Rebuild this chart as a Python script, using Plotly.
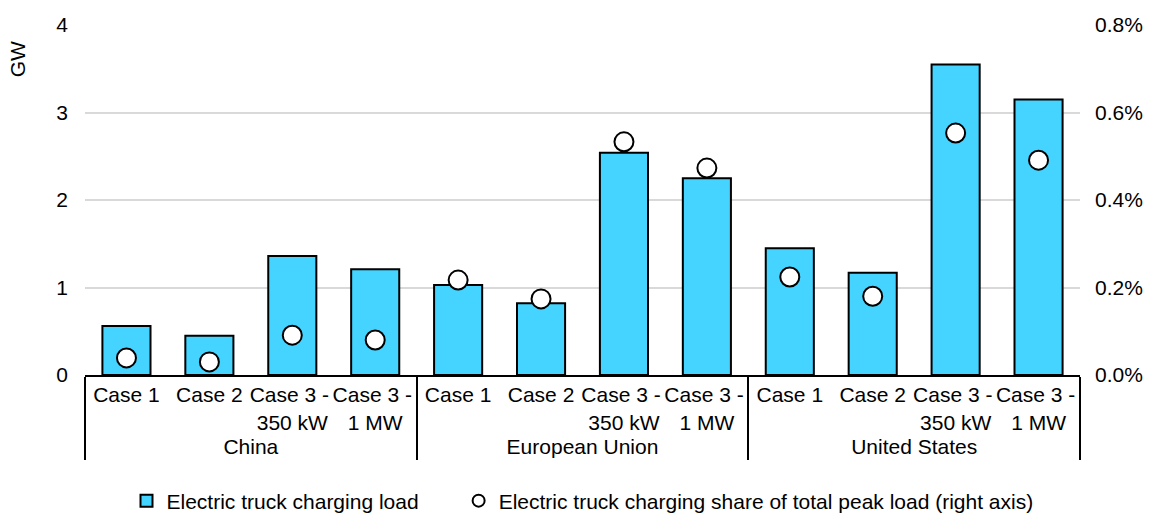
import plotly.graph_objects as go

regions = ["China"] * 4 + ["European Union"] * 4 + ["United States"] * 4
cases = ["Case 1", "Case 2", "Case 3 -\u00a0<br>350 kW", "Case 3 -\u00a0<br>1 MW"] * 3
load_gw = [0.56, 0.45, 1.36, 1.21, 1.03, 0.82, 2.54, 2.25, 1.45, 1.17, 3.55, 3.15]
share = [0.00039, 0.00030, 0.00091, 0.00080, 0.00217, 0.00174, 0.00533, 0.00473,
         0.00224, 0.00180, 0.00553, 0.00491]

FONT = "Liberation Sans, Arial, sans-serif"
FS = 21

fig = go.Figure()
fig.add_trace(go.Bar(
    x=[regions, cases], y=load_gw,
    name="Electric truck charging load" + "\u00a0" * 6,
    marker=dict(color="#44D4FF", line=dict(color="black", width=2)),
))
fig.add_trace(go.Scatter(
    x=[regions, cases], y=share, yaxis="y2", mode="markers",
    name="Electric truck charging share of total peak load (right axis)",
    marker=dict(color="white", size=19, line=dict(color="black", width=2)),
))

fig.update_layout(
    width=1150, height=513,
    margin=dict(l=85, r=70, t=25, b=138, autoexpand=False),
    plot_bgcolor="white", paper_bgcolor="white",
    font=dict(family=FONT, size=FS, color="black"),
    bargap=0.42,
    showlegend=True,
    legend=dict(orientation="h", x=0.5, xanchor="center", y=-0.36, yanchor="middle",
                font=dict(size=FS), itemsizing="constant", itemwidth=30),
    xaxis=dict(type="multicategory", range=[-0.5, 11.5], showline=True,
               linecolor="black", linewidth=2, tickangle=0,
               showdividers=True, dividercolor="black", dividerwidth=2,
               ticks="", tickfont=dict(size=FS), automargin=False),
    yaxis=dict(range=[0, 4], dtick=1, showgrid=True, gridcolor="#d9d9d9", gridwidth=2,
               zeroline=False, ticks="", tickfont=dict(size=FS), ticklabelstandoff=16,
               automargin=False),
    yaxis2=dict(range=[0, 0.008], dtick=0.002, tickformat=".1%", overlaying="y",
                side="right", showgrid=False, zeroline=False, ticks="",
                tickfont=dict(size=FS), ticklabelstandoff=14, automargin=False),
    annotations=[dict(text="GW", textangle=-90, x=-0.067, xref="paper", y=0.903,
                      yref="paper", xanchor="center", yanchor="middle",
                      showarrow=False, font=dict(size=FS))],
)

fig.write_html("out.html", config={"displayModeBar": False},
               post_script="document.body.style.margin='0';")
